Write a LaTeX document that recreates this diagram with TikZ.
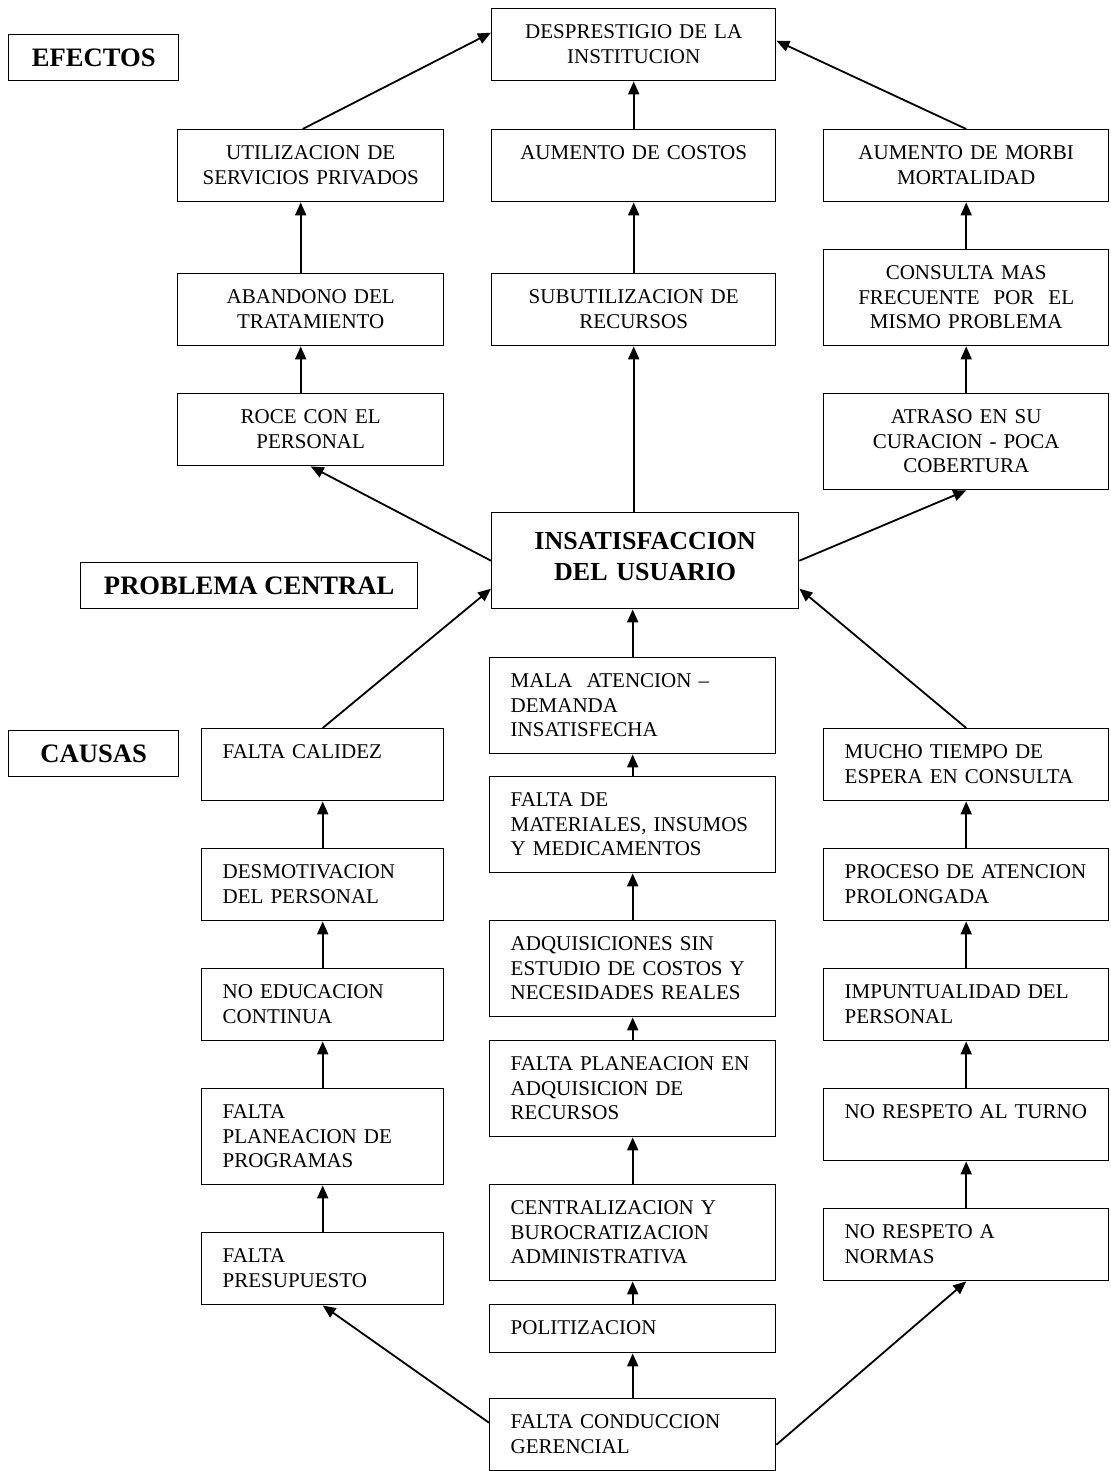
\documentclass[tikz,border=0pt]{standalone}
\usepackage{fontspec}
\setmainfont{Liberation Serif}
\usetikzlibrary{arrows.meta}

\begin{document}
\begin{tikzpicture}[x=0.5pt,y=-0.5pt,
    caja/.style={draw, line width=0.7pt, anchor=north west, inner xsep=10.5pt, inner ysep=0pt,
      text height=15pt, font=\fontsize{10.5}{12.2}\selectfont},
    h1/.style={text depth=9pt}, h2/.style={text depth=21pt}, h3/.style={text depth=33pt},
    efecto/.style={caja, align=center, text width=#1},
    causa/.style={caja, align=left, text width=#1},
    titulo/.style={draw, line width=0.7pt, anchor=north west, inner sep=0pt, minimum height=23pt,
      minimum width=#1, font=\bfseries\fontsize{13.3}{15}\selectfont},
    flecha/.style={line width=0.9pt, -{Triangle[length=6.5pt,width=5.5pt]}}]
    \useasboundingbox (0,0) rectangle (1111,1471);
    \node[titulo=85pt] (efectos) at (8,34) {EFECTOS};
    \node[titulo=168.5pt] (problema) at (80,562) {PROBLEMA CENTRAL};
    \node[titulo=85pt] (causas) at (8,730) {CAUSAS};
    \node[efecto=121pt, h2] (desp) at (491,8) {DESPRESTIGIO DE LA\\INSTITUCION};
    \node[efecto=112pt, h2] (util) at (177,129) {UTILIZACION DE\\SERVICIOS PRIVADOS};
    \node[efecto=121pt, h2] (costos) at (491,129) {AUMENTO DE COSTOS};
    \node[efecto=121.5pt, h2] (morbi) at (823,129) {AUMENTO DE MORBI\\MORTALIDAD};
    \node[efecto=112pt, h2] (aband) at (177,273) {ABANDONO DEL\\TRATAMIENTO};
    \node[efecto=121pt, h2] (subut) at (491,273) {SUBUTILIZACION DE\\RECURSOS};
    \node[efecto=121.5pt, h3] (consulta) at (823,249) {CONSULTA MAS\\FRECUENTE\ \ POR\ \ EL\\MISMO PROBLEMA};
    \node[efecto=112pt, h2] (roce) at (177,393) {ROCE CON EL\\PERSONAL};
    \node[efecto=121.5pt, h3] (atraso) at (823,393) {ATRASO EN SU\\CURACION - POCA\\COBERTURA};
    \node[caja, align=center, text width=132.5pt, text height=18.5pt, text depth=29.5pt,
      font=\bfseries\fontsize{13}{15.5}\selectfont] (insat) at (491,512) {INSATISFACCION\\DEL USUARIO};
    \node[causa=122pt, h3] (mala) at (489,657) {MALA\ \ ATENCION –\\DEMANDA\\INSATISFECHA};
    \node[causa=100pt, h2] (calidez) at (201,728) {FALTA CALIDEZ};
    \node[causa=121.5pt, h2] (mucho) at (823,728) {MUCHO TIEMPO DE\\ESPERA~EN~CONSULTA};
    \node[causa=122pt, h3] (mater) at (489,776) {FALTA DE\\MATERIALES,~INSUMOS\\Y MEDICAMENTOS};
    \node[causa=100pt, h2] (desmot) at (201,848) {DESMOTIVACION\\DEL PERSONAL};
    \node[causa=121.5pt, h2] (proceso) at (823,848) {PROCESO~DE~ATENCION\\PROLONGADA};
    \node[causa=122pt, h3] (adq) at (489,920) {ADQUISICIONES SIN\\ESTUDIO~DE~COSTOS~Y\\NECESIDADES~REALES};
    \node[causa=100pt, h2] (noedu) at (201,968) {NO EDUCACION\\CONTINUA};
    \node[causa=121.5pt, h2] (impunt) at (823,968) {IMPUNTUALIDAD~DEL\\PERSONAL};
    \node[causa=122pt, h3] (planrec) at (489,1040) {FALTA~PLANEACION~EN\\ADQUISICION DE\\RECURSOS};
    \node[causa=100pt, h3] (planprog) at (201,1088) {FALTA\\PLANEACION DE\\PROGRAMAS};
    \node[causa=121.5pt, h2] (turno) at (823,1088) {NO~RESPETO~AL~TURNO};
    \node[causa=122pt, h3] (central) at (489,1184) {CENTRALIZACION~Y\\BUROCRATIZACION\\ADMINISTRATIVA};
    \node[causa=100pt, h2] (presup) at (201,1232) {FALTA\\PRESUPUESTO};
    \node[causa=121.5pt, h2] (normas) at (823,1208) {NO RESPETO A\\NORMAS};
    \node[causa=122pt, h1] (polit) at (489,1304) {POLITIZACION};
    \node[causa=122pt, h2] (conduc) at (489,1398) {FALTA~CONDUCCION\\GERENCIAL};
    \foreach \a/\b in {costos/desp, subut/costos, consulta/morbi, atraso/consulta,
        mater/mala, adq/mater, planrec/adq, central/planrec, polit/central, conduc/polit,
        desmot/calidez, noedu/desmot, planprog/noedu, presup/planprog,
        proceso/mucho, impunt/proceso, turno/impunt, normas/turno}
      \draw[flecha] (\a.north) -- (\b.south);
    \draw[flecha] ([xshift=-5pt]aband.north) -- ([xshift=-5pt]util.south);
    \draw[flecha] ([xshift=-5pt]roce.north) -- ([xshift=-5pt]aband.south);
    \draw[flecha] (subut.south |- insat.north) -- (subut.south);
    \draw[flecha] (mala.north) -- (mala.north |- insat.south);
    \draw[flecha] ([xshift=-4pt]util.north) -- ([yshift=6pt]desp.west);
    \draw[flecha] (morbi.north) -- ([yshift=2pt]desp.east);
    \draw[flecha] (insat.west) -- (roce.south);
    \draw[flecha] (insat.east) -- (atraso.south);
    \draw[flecha] (calidez.north) -- ([yshift=-14pt]insat.west);
    \draw[flecha] (mucho.north) -- ([yshift=-14pt]insat.east);
    \draw[flecha] ([yshift=6pt]conduc.west) -- (presup.south);
    \draw[flecha] ([yshift=-5pt]conduc.east) -- (normas.south);
\end{tikzpicture}
\end{document}
